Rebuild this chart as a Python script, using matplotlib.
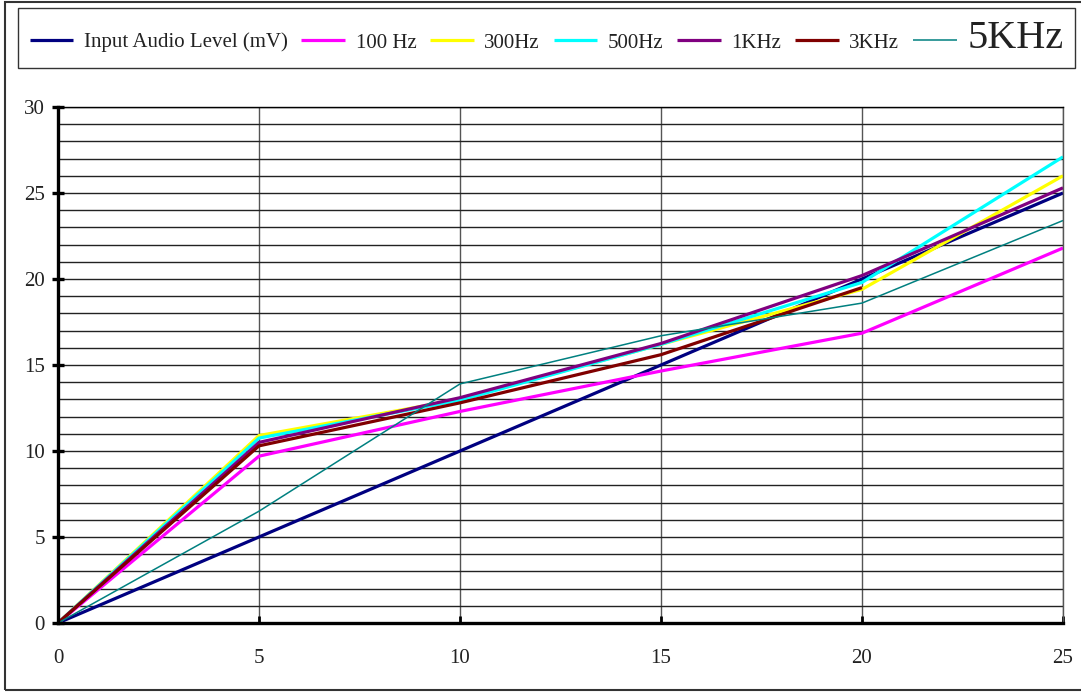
import matplotlib
matplotlib.use("Agg")
import matplotlib.pyplot as plt
from matplotlib.patches import Rectangle
import numpy as np

plt.rcParams['font.family'] = ['Liberation Serif', 'DejaVu Serif']

x_vals = [0, 5, 10, 15, 20, 25]
input_level = [0, 5, 10, 15, 20, 25]
hz100 = [0, 9.7, 12.3, 14.65, 16.85, 21.8]
hz300 = [0, 10.9, 13.0, 16.2, 19.4, 26.0]
hz500 = [0, 10.75, 12.95, 16.2, 19.8, 27.1]
khz1 = [0, 10.5, 13.1, 16.25, 20.2, 25.3]
khz3 = [0, 10.3, 12.8, 15.6, 19.5, np.nan]
khz5 = [0, 6.5, 13.9, 16.7, 18.6, 23.4]

labels = ["Input Audio Level (mV)", "100 Hz", "300Hz", "500Hz", "1KHz", "3KHz", "5KHz"]
series = [input_level, hz100, hz300, hz500, khz1, khz3, khz5]
colors = ["#000080", "#FF00FF", "#FFFF00", "#00FFFF", "#800080", "#800000", "#008080"]
widths = [2.3, 2.3, 2.3, 2.3, 2.3, 2.3, 1.1]

x_ticks = [0, 5, 10, 15, 20, 25]
y_ticks = [0, 5, 10, 15, 20, 25, 30]

W, H = 1081, 692
fig = plt.figure(figsize=(W / 100, H / 100), dpi=100)
ax = fig.add_axes([58 / W, 1 - 623 / H, (1063 - 58) / W, (623 - 107) / H])

for s, lab, c, lw in zip(series, labels, colors, widths):
    ax.plot(x_vals, s, color=c, lw=lw, label=lab, solid_capstyle='butt', zorder=3)

ax.set_xlim(0, 25)
ax.set_ylim(0, 30)
ax.set_xticks(x_ticks)
ax.set_yticks(y_ticks)
ax.set_yticks(np.arange(0, 31, 1), minor=True)
ax.grid(which='both', axis='y', color='#222222', lw=1.0, zorder=1)
ax.grid(which='major', axis='x', color='#555555', lw=1.0, zorder=1)
ax.set_axisbelow(True)

ax.tick_params(axis='y', which='major', direction='inout', length=9, width=2.4,
               labelsize=15, pad=5.0, colors='black', labelcolor='#222222')
ax.tick_params(axis='y', which='minor', length=0)
ax.tick_params(axis='x', which='major', direction='in', length=5, width=2.0,
               labelsize=15, pad=19, labelcolor='#222222')

ax.spines['left'].set_linewidth(2.4)
ax.spines['bottom'].set_linewidth(2.4)
ax.spines['top'].set_linewidth(1.0)
ax.spines['right'].set_linewidth(1.0)
ax.spines['right'].set_color('#555555')
for sp in ax.spines.values():
    sp.set_zorder(4)

handles, labs = ax.get_legend_handles_labels()
leg = fig.legend(handles, labs, loc='center',
                 bbox_to_anchor=(18 / W, 1 - 68 / H, (1075 - 18) / W, 60 / H),
                 mode='expand', ncol=7, fontsize=15, frameon=True, fancybox=False,
                 edgecolor='black', handlelength=2.1, handletextpad=0.5,
                 columnspacing=0.4, borderpad=0.56, borderaxespad=0)
leg.get_frame().set_linewidth(1.0)
for t in leg.get_texts():
    t.set_color('#222222')
leg.get_texts()[-1].set_fontsize(29)

fig.patches.append(Rectangle((5 / W, 2 / H), 1.1, 1 - 4 / H, transform=fig.transFigure,
                             fill=False, edgecolor='#333333', lw=1.5))

fig.savefig("out.png", dpi=100)
